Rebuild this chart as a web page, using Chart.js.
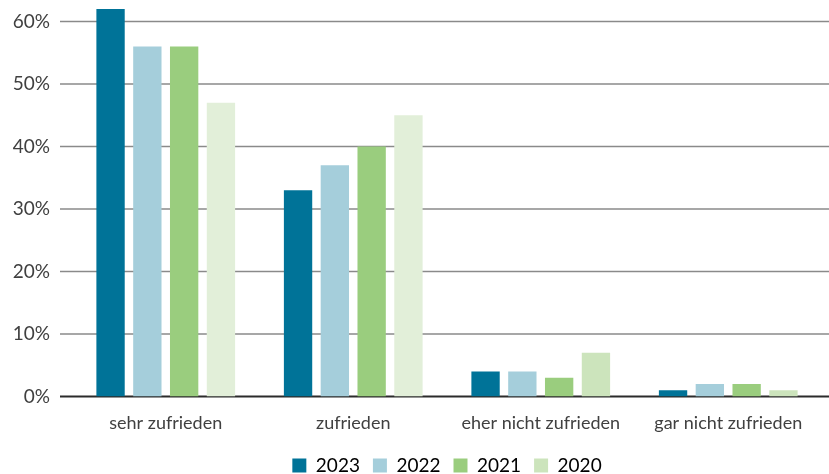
<!DOCTYPE html>
<html>
<head>
<meta charset="utf-8">
<script src="https://cdn.jsdelivr.net/npm/chart.js@4.4.0/dist/chart.umd.min.js"></script>
<style>
  html, body { margin: 0; padding: 0; background: #ffffff; }
  #wrap { width: 829px; height: 474px; }
</style>
</head>
<body>
<div id="wrap"><canvas id="myChart"></canvas></div>
<script>
const ctx = document.getElementById("myChart");

// datos
const categorias = ["sehr zufrieden", "zufrieden", "eher nicht zufrieden", "gar nicht zufrieden"];
const anios = ["2023", "2022", "2021", "2020"];
const valores2023 = [62, 33, 4, 1];
const valores2022 = [56, 37, 4, 2];
const valores2021 = [56, 40, 3, 2];
const valores2020 = [47, 45, 7, 1];
const ticksY = [0, 10, 20, 30, 40, 50, 60];

const colores = ["#007398", "#a5cedb", "#9acd7e", "#cce4bc"];
// el 2020 se ve mas claro en los dos primeros grupos
const colores2020 = ["#e2efd9", "#e2efd9", "#cce4bc", "#cce4bc"];

const fuente = "Lato, 'DejaVu Sans', sans-serif";

// alarga las lineas de la grilla hasta el borde derecho
const extenderGrilla = {
  id: "extenderGrilla",
  beforeDatasetsDraw(chart) {
    const { ctx, chartArea, scales } = chart;
    ctx.save();
    ticksY.forEach((t) => {
      const y = scales.y.getPixelForValue(t);
      ctx.beginPath();
      ctx.strokeStyle = t === 0 ? "#2b2b2b" : "#8a8a8a";
      ctx.lineWidth = t === 0 ? 2 : 1.5;
      ctx.moveTo(chartArea.left - 12, y);
      ctx.lineTo(chart.width, y);
      ctx.stroke();
    });
    ctx.restore();
  },
};

const series = [valores2023, valores2022, valores2021, valores2020];

new Chart(ctx, {
  type: "bar",
  data: {
    labels: categorias,
    datasets: series.map((datos, i) => ({
      label: anios[i],
      data: datos,
      backgroundColor: i === 3 ? colores2020 : colores[i],
      borderWidth: 0,
      categoryPercentage: 0.785,
      barPercentage: 0.77,
    })),
  },
  options: {
    responsive: true,
    maintainAspectRatio: false,
    animation: false,
    layout: { padding: { top: 0, right: 7, left: 0, bottom: -11 } },
    scales: {
      x: {
        grid: { display: false },
        border: { display: false },
        afterFit: (axis) => {
          axis.height = 46.5;
        },
        ticks: {
          color: "#404040",
          font: { family: fuente, size: 18 },
          padding: 8,
        },
      },
      y: {
        min: 0,
        max: 62,
        afterBuildTicks: (axis) => {
          axis.ticks = ticksY.map((v) => ({ value: v }));
        },
        afterFit: (axis) => {
          axis.width = 72;
          axis.paddingTop = 9;
        },
        grid: { display: false, drawTicks: false },
        border: { display: false },
        ticks: {
          color: "#404040",
          font: { family: fuente, size: 19 },
          padding: 22,
          callback: (v) => v + "%",
        },
      },
    },
    plugins: {
      legend: {
        position: "bottom",
        fullSize: false,
        labels: {
          boxWidth: 14,
          boxHeight: 14,
          padding: 13,
          color: "#404040",
          font: { family: fuente, size: 19 },
          generateLabels: () =>
            anios.map((a, i) => ({
              text: a,
              fillStyle: colores[i],
              strokeStyle: colores[i],
              lineWidth: 0,
              datasetIndex: i,
            })),
        },
      },
      tooltip: { enabled: false },
    },
  },
  plugins: [extenderGrilla],
});
</script>
</body>
</html>
